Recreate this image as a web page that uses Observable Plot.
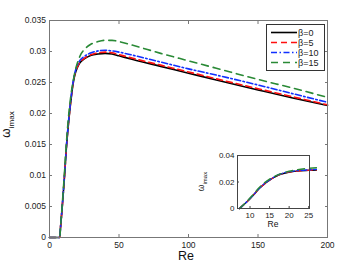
<!DOCTYPE html>
<html><head><meta charset="utf-8">
<script src="https://cdn.jsdelivr.net/npm/d3@7"></script>
<script src="https://cdn.jsdelivr.net/npm/@observablehq/plot@0.6"></script>
<style>
body{margin:0;background:#fff;}
#wrap{position:relative;width:360px;height:267px;overflow:hidden;font-family:"Liberation Sans",Arial,sans-serif;}
#inset{position:absolute;left:192px;top:150px;}
#legend{position:absolute;left:266px;top:24px;}
</style></head><body>
<div id="wrap"><div id="main"></div><div id="inset"></div><svg id="legend" width="59" height="47"></svg></div>
<script>
// ---- data ----
const reValues    = [0, 7.3, 8, 9, 10, 11, 12, 13, 14, 15, 16, 17, 18, 20, 22, 25, 30, 35, 40, 45, 50, 60, 80, 100, 120, 150, 175, 200];
const omegaBeta0  = [0, 0, 0.0018, 0.0045, 0.0074, 0.0105, 0.0140, 0.0168, 0.0192, 0.0213, 0.0232, 0.0248, 0.0260, 0.0274, 0.0282, 0.0288, 0.0294, 0.0296, 0.0297, 0.0296, 0.0293, 0.0287, 0.0276, 0.0265, 0.0254, 0.0238, 0.0225, 0.0213];
const omegaBeta5  = [0, 0, 0.0018, 0.0045, 0.0075, 0.0106, 0.0141, 0.0169, 0.0193, 0.0214, 0.0233, 0.0249, 0.0261, 0.0275, 0.0283, 0.0289, 0.0295, 0.0298, 0.0299, 0.0298, 0.0295, 0.0289, 0.0278, 0.0267, 0.0256, 0.0240, 0.0227, 0.0214];
const omegaBeta10 = [0, 0, 0.0018, 0.0046, 0.0076, 0.0107, 0.0142, 0.0170, 0.0195, 0.0216, 0.0235, 0.0251, 0.0263, 0.0278, 0.0286, 0.0292, 0.0298, 0.0301, 0.0302, 0.0301, 0.0299, 0.0294, 0.0283, 0.0272, 0.0262, 0.0246, 0.0232, 0.0218];
const omegaBeta15 = [0, 0, 0.0019, 0.0048, 0.0079, 0.0112, 0.0147, 0.0177, 0.0202, 0.0222, 0.0239, 0.0252, 0.0264, 0.0281, 0.0293, 0.0303, 0.0312, 0.0316, 0.0318, 0.0318, 0.0316, 0.0310, 0.0297, 0.0285, 0.0273, 0.0255, 0.0241, 0.0226];
const seriesNames = ["β=0", "β=5", "β=10", "β=15"];
const mainXTicks  = [0, 50, 100, 150, 200];
const mainYTicks  = [0, 0.005, 0.01, 0.015, 0.02, 0.025, 0.03, 0.035];
const insetXTicks = [10, 15, 20, 25];
const insetYTicks = [0, 0.02, 0.04];

// ---- styles ----
const seriesValues = [omegaBeta0, omegaBeta5, omegaBeta10, omegaBeta15];
const colors = ["#000000", "#ff1010", "#1030ff", "#2a8a36"];
const dashes = [null, "6,4", "6,2.5,1.5,2.5", "7,5"];
const font = "'Liberation Sans', Arial, sans-serif";
const fmt = d => String(d);

const series = seriesNames.map((name, i) => ({
  name,
  rows: reValues.map((re, j) => ({re, w: seriesValues[i][j]}))
}));

function lineMarks(filter, width) {
  return series.map((s, i) => Plot.line(filter ? s.rows.filter(filter) : s.rows, {
    x: "re", y: "w", stroke: colors[i], strokeWidth: width,
    strokeDasharray: dashes[i], curve: "monotone-x"
  }));
}

// ---- main chart ----
const main = Plot.plot({
  width: 360, height: 267,
  marginLeft: 49, marginRight: 33, marginTop: 20, marginBottom: 30,
  style: {fontFamily: font, fontSize: "8.5px", color: "#222", background: "#fff"},
  x: {domain: [0, 200]},
  y: {domain: [0, 0.035]},
  marks: [
    ...lineMarks(null, 1.6),
    Plot.frame({stroke: "#777"}),
    Plot.axisX(mainXTicks, {anchor: "bottom", tickSize: -3, tickPadding: 7, tickFormat: fmt, label: null, stroke: "#777"}),
    Plot.axisX(mainXTicks, {anchor: "top", tickSize: -3, tickFormat: () => "", label: null, stroke: "#777"}),
    Plot.axisY(mainYTicks, {anchor: "left", tickSize: -3, tickPadding: 6.5, tickFormat: fmt, label: null, stroke: "#777"}),
    Plot.axisY(mainYTicks, {anchor: "right", tickSize: -3, tickFormat: () => "", label: null, stroke: "#777"})
  ]
});
document.getElementById("main").appendChild(main);
{
  const xr = main.scale("x").range, yr = main.scale("y").range;
  const svg = d3.select(main);
  svg.append("text").attr("x", (xr[0] + xr[1]) / 2 - 2).attr("y", 260)
    .attr("text-anchor", "middle").attr("font-size", 12.5).attr("fill", "#111").text("Re");
  const yl = svg.append("text")
    .attr("transform", `translate(10,${(yr[0] + yr[1]) / 2 - 4}) rotate(-90)`)
    .attr("text-anchor", "middle").attr("fill", "#111");
  yl.append("tspan").attr("font-size", 12).text("ω");
  yl.append("tspan").attr("font-size", 8).attr("dy", 4).text("imax");
}

// ---- inset ----
const inset = Plot.plot({
  width: 125, height: 82,
  marginLeft: 45, marginRight: 8, marginTop: 5, marginBottom: 24,
  style: {fontFamily: font, fontSize: "8px", color: "#222", background: "#fff"},
  x: {domain: [6.8, 25.2]},
  y: {domain: [0, 0.04]},
  marks: [
    ...lineMarks(d => d.re >= 7, 1.4),
    Plot.frame({stroke: "#444"}),
    Plot.axisX(insetXTicks, {anchor: "bottom", tickSize: -2, tickPadding: 6, tickFormat: fmt, label: null, stroke: "#444"}),
    Plot.axisY(insetYTicks, {anchor: "left", tickSize: -2, tickPadding: 5, tickFormat: fmt, label: null, stroke: "#444"})
  ]
});
document.getElementById("inset").appendChild(inset);
{
  const xr = inset.scale("x").range, yr = inset.scale("y").range;
  const svg = d3.select(inset);
  svg.append("text").attr("x", (xr[0] + xr[1]) / 2).attr("y", 77)
    .attr("text-anchor", "middle").attr("font-size", 8.5).attr("fill", "#111").text("Re");
  const yl = svg.append("text")
    .attr("transform", `translate(12,${(yr[0] + yr[1]) / 2}) rotate(-90)`)
    .attr("text-anchor", "middle").attr("fill", "#111");
  yl.append("tspan").attr("font-size", 8.5).text("ω");
  yl.append("tspan").attr("font-size", 6).attr("dy", 2.5).text("imax");
}

// ---- legend ----
{
  const lg = d3.select("#legend");
  lg.append("rect").attr("x", 0.5).attr("y", 0.5).attr("width", 58).attr("height", 46)
    .attr("fill", "#fff").attr("stroke", "#333");
  seriesNames.forEach((name, i) => {
    const y = 8.5 + i * 10;
    lg.append("line").attr("x1", 5).attr("x2", 31).attr("y1", y).attr("y2", y)
      .attr("stroke", colors[i]).attr("stroke-width", 1.6)
      .attr("stroke-dasharray", dashes[i]);
    lg.append("text").attr("x", 32).attr("y", y + 3.2).attr("font-size", 9)
      .attr("font-family", font).attr("fill", "#222").text(name);
  });
}
</script>
</body></html>
